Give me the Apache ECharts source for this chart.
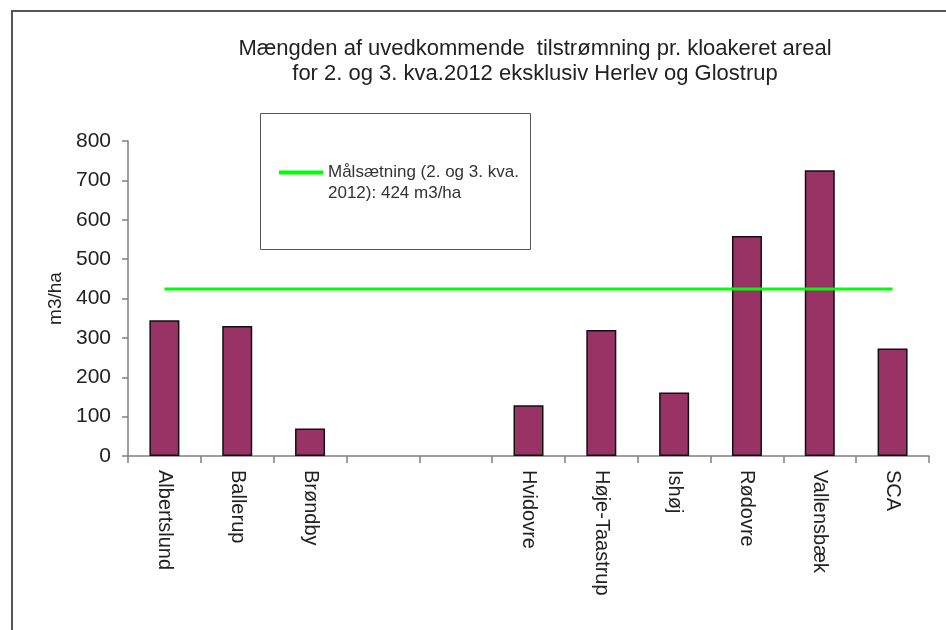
<!DOCTYPE html>
<html>
<head>
<meta charset="utf-8">
<script src="https://cdn.jsdelivr.net/npm/echarts@6/dist/echarts.min.js"></script>
<style>
  html, body { margin: 0; padding: 0; background: #fff; }
  #chart { width: 946px; height: 630px; }
</style>
</head>
<body>
<div id="chart"></div>
<script>
// Herlev and Glostrup are left out, their slots stay empty
const categories = ["Albertslund", "Ballerup", "Brøndby", "", "", "Hvidovre", "Høje-Taastrup", "Ishøj", "Rødovre", "Vallensbæk", "SCA"]
const values = [345, 330, 70, null, null, 129, 320, 161, 559, 726, 273]
const target = [424, 424, 424, 424, 424, 424, 424, 424, 424, 424, 424]
const yTicks = [0, 100, 200, 300, 400, 500, 600, 700, 800]
const targetName = "Målsætning (2. og 3. kva.\n2012): 424 m3/ha"

const font = "Liberation Sans, Arial, sans-serif"

const chart = echarts.init(document.getElementById("chart"))

chart.setOption({
    backgroundColor: "#fff",
    animation: false,
    title: {
        text: "Mængden af uvedkommende  tilstrømning pr. kloakeret areal\nfor 2. og 3. kva.2012 eksklusiv Herlev og Glostrup",
        left: 530,
        top: 31,
        textAlign: "center",
        textStyle: { fontFamily: font, fontSize: 22, fontWeight: "normal", color: "#222", lineHeight: 25 }
    },
    legend: {
        data: [targetName],
        left: 274,
        top: 136,
        icon: "rect",
        itemWidth: 44,
        itemHeight: 4,
        // empty first line so the swatch sits beside the first text line
        formatter: name => "\n" + name,
        textStyle: { fontFamily: font, fontSize: 17, color: "#333", lineHeight: 21 }
    },
    graphic: [
        {
            type: "polyline",
            shape: { points: [[12, 630], [12, 11], [946, 11]] },
            style: { stroke: "#555", lineWidth: 2, fill: null },
            silent: true
        },
        {
            type: "rect",
            shape: { x: 260.5, y: 113.5, width: 270, height: 136 },
            style: { stroke: "#555", lineWidth: 1, fill: null },
            z: -1,
            silent: true
        }
    ],
    grid: { left: 128, right: 17, top: 141, bottom: 174 },
    xAxis: {
        type: "category",
        data: categories,
        axisLine: { lineStyle: { color: "#808080", width: 1.5 } },
        axisTick: { show: true, alignWithLabel: false, interval: 0, length: 7, lineStyle: { color: "#808080", width: 1.5 } },
        axisLabel: { rotate: -90, margin: 14, fontFamily: font, fontSize: 20, color: "#222", interval: 0 }
    },
    yAxis: {
        type: "value",
        min: yTicks[0],
        max: yTicks[yTicks.length - 1],
        interval: 100,
        name: "m3/ha",
        nameLocation: "middle",
        nameGap: 60,
        nameTextStyle: { fontFamily: font, fontSize: 19, color: "#222" },
        splitLine: { show: false },
        axisLine: { show: true, lineStyle: { color: "#808080", width: 1.5 } },
        axisTick: { show: true, length: 6, lineStyle: { color: "#808080", width: 1.5 } },
        axisLabel: { margin: 17, fontFamily: font, fontSize: 21, color: "#222" }
    },
    series: [
        {
            type: "bar",
            data: values,
            barWidth: 30,
            itemStyle: { color: "#993366", borderColor: "#111", borderWidth: 1.5 }
        },
        {
            name: targetName,
            type: "line",
            data: target,
            symbol: "none",
            lineStyle: { color: "#00ff00", width: 3 },
            itemStyle: { color: "#00ff00" },
            z: 3
        }
    ]
})
</script>
</body>
</html>
